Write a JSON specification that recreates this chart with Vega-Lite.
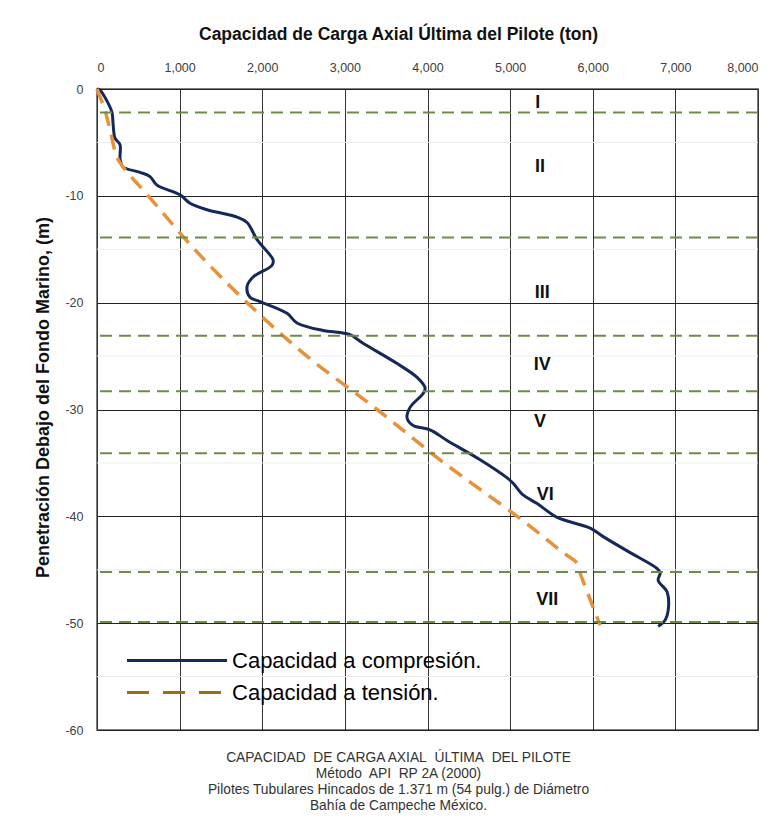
{
  "$schema": "https://vega.github.io/schema/vega-lite/v6.json",
  "width": 661,
  "height": 641,
  "autosize": "none",
  "padding": {"left": 97, "top": 89, "right": 23, "bottom": 103},
  "background": "white",
  "config": {
    "view": {"stroke": "#555", "strokeWidth": 1.5},
    "font": "Liberation Sans"
  },
  "title": {
    "text": [
      "CAPACIDAD\u00a0 DE CARGA AXIAL\u00a0 ÚLTIMA\u00a0 DEL PILOTE",
      "Método\u00a0 API\u00a0 RP 2A (2000)",
      "Pilotes Tubulares Hincados de 1.371 m (54 pulg.) de Diámetro",
      "Bahía de Campeche México."
    ],
    "orient": "bottom",
    "anchor": "middle",
    "fontSize": 13.8,
    "fontWeight": "normal",
    "font": "Liberation Sans",
    "color": "#333",
    "lineHeight": 16,
    "offset": 14,
    "dx": -29
  },
  "datasets": {
    "compresion": [
      {"ton": 0, "m": 0}, {"ton": 36, "m": -0.1}, {"ton": 133, "m": -1.3}, {"ton": 182, "m": -2.2},
      {"ton": 194, "m": -3.2}, {"ton": 218, "m": -4.6}, {"ton": 278, "m": -5.2}, {"ton": 280, "m": -6.6},
      {"ton": 315, "m": -7.3}, {"ton": 521, "m": -7.8}, {"ton": 642, "m": -8.2}, {"ton": 726, "m": -9.0},
      {"ton": 1005, "m": -9.9}, {"ton": 1126, "m": -10.7}, {"ton": 1332, "m": -11.3}, {"ton": 1695, "m": -12.0},
      {"ton": 1816, "m": -12.5}, {"ton": 1937, "m": -14.1}, {"ton": 2131, "m": -16.0}, {"ton": 2119, "m": -16.5},
      {"ton": 1889, "m": -17.6}, {"ton": 1816, "m": -18.5}, {"ton": 1852, "m": -19.5}, {"ton": 1973, "m": -19.9},
      {"ton": 2300, "m": -21.0}, {"ton": 2421, "m": -21.9}, {"ton": 2736, "m": -22.6}, {"ton": 2942, "m": -22.8},
      {"ton": 3063, "m": -23.0}, {"ton": 3220, "m": -23.8}, {"ton": 3632, "m": -25.7}, {"ton": 3874, "m": -27.0},
      {"ton": 3971, "m": -28.0}, {"ton": 3947, "m": -28.5}, {"ton": 3789, "m": -29.8}, {"ton": 3753, "m": -30.8},
      {"ton": 3826, "m": -31.5}, {"ton": 4031, "m": -31.9}, {"ton": 4237, "m": -32.9}, {"ton": 4637, "m": -34.7},
      {"ton": 4964, "m": -36.4}, {"ton": 5036, "m": -36.9}, {"ton": 5157, "m": -38.0}, {"ton": 5327, "m": -38.8},
      {"ton": 5569, "m": -40.1}, {"ton": 5969, "m": -41.1}, {"ton": 6126, "m": -41.9}, {"ton": 6453, "m": -43.4},
      {"ton": 6780, "m": -44.9}, {"ton": 6816, "m": -45.3}, {"ton": 6792, "m": -46.0}, {"ton": 6901, "m": -47.1},
      {"ton": 6913, "m": -48.8}, {"ton": 6877, "m": -49.7}, {"ton": 6792, "m": -50.3}
    ],
    "tension": [
      {"ton": 0, "m": 0}, {"ton": 50, "m": -1.0}, {"ton": 97, "m": -2.0}, {"ton": 157, "m": -3.8},
      {"ton": 242, "m": -6.4}, {"ton": 315, "m": -7.3}, {"ton": 620, "m": -10}, {"ton": 1180, "m": -15},
      {"ton": 1816, "m": -20}, {"ton": 2540, "m": -25}, {"ton": 3390, "m": -30}, {"ton": 4200, "m": -35},
      {"ton": 5085, "m": -40}, {"ton": 5642, "m": -43.4}, {"ton": 5811, "m": -44.4}, {"ton": 5847, "m": -45.3},
      {"ton": 5969, "m": -47.8}, {"ton": 6090, "m": -50.2}
    ],
    "menores": [
      {"m": -5}, {"m": -15}, {"m": -25}, {"m": -35}, {"m": -45}, {"m": -55}
    ],
    "estratos": [
      {"m": -2.2}, {"m": -13.9}, {"m": -23.1}, {"m": -28.3}, {"m": -34.1}, {"m": -45.2}, {"m": -49.9}
    ],
    "zonas": [
      {"zona": "I", "ton": 5333, "m": -1.3},
      {"zona": "II", "ton": 5363, "m": -7.3},
      {"zona": "III", "ton": 5390, "m": -19.1},
      {"zona": "IV", "ton": 5390, "m": -25.8},
      {"zona": "V", "ton": 5363, "m": -31.2},
      {"zona": "VI", "ton": 5424, "m": -38.0},
      {"zona": "VII", "ton": 5448, "m": -47.8}
    ],
    "leyenda": [
      {"serie": "Capacidad a compresión.", "ton": 363, "ton2": 1574, "lx": 1634, "m": -53.5},
      {"serie": "Capacidad a tensión.", "ton": 363, "ton2": 1574, "lx": 1634, "m": -56.5}
    ]
  },
  "layer": [
    {
      "data": {"name": "menores"},
      "mark": {"type": "rule", "color": "#ececec", "strokeWidth": 1},
      "encoding": {
        "y": {"field": "m", "type": "quantitative", "scale": {"domain": [-60, 0], "nice": false}}
      }
    },
    {
      "data": {"name": "compresion"},
      "mark": {"type": "line", "color": "#14285a", "strokeWidth": 3, "interpolate": "catmull-rom"},
      "encoding": {
        "x": {
          "field": "ton", "type": "quantitative",
          "scale": {"domain": [0, 8000], "nice": false},
          "axis": {
            "orient": "top",
            "values": [0, 1000, 2000, 3000, 4000, 5000, 6000, 7000, 8000],
            "format": ",.0f",
            "title": "Capacidad de Carga Axial Última del Pilote (ton)",
            "titleFontSize": 17.5,
            "titleFontWeight": "bold",
            "titleColor": "#111",
            "titlePadding": 18,
            "titleX": 301,
            "labelFontSize": 12.5,
            "labelColor": "#404040",
            "labelPadding": 15,
            "ticks": false,
            "tickSize": 0,
            "domain": false,
            "grid": true,
            "gridColor": "#333",
            "gridWidth": 1
          }
        },
        "y": {
          "field": "m", "type": "quantitative",
          "scale": {"domain": [-60, 0], "nice": false},
          "axis": {
            "values": [0, -10, -20, -30, -40, -50, -60],
            "labelExpr": "replace(datum.label, '\u2212', '-')",
            "title": "Penetración Debajo del Fondo Marino, (m)",
            "titleFontSize": 18,
            "titleFontWeight": "bold",
            "titleColor": "#111",
            "titlePadding": 12,
            "titleY": 308,
            "labelFontSize": 12.5,
            "labelColor": "#404040",
            "labelPadding": 14,
            "ticks": false,
            "tickSize": 0,
            "domain": false,
            "grid": true,
            "gridColor": "#222",
            "gridWidth": 1
          }
        },
        "order": {"field": "m", "sort": "descending"}
      }
    },
    {
      "data": {"name": "tension"},
      "mark": {"type": "line", "color": "#E8913D", "strokeWidth": 3.5, "strokeDash": [15, 9], "interpolate": "catmull-rom"},
      "encoding": {
        "x": {"field": "ton", "type": "quantitative"},
        "y": {"field": "m", "type": "quantitative"},
        "order": {"field": "m", "sort": "descending"}
      }
    },
    {
      "data": {"name": "estratos"},
      "mark": {"type": "rule", "color": "#6E8B4A", "strokeWidth": 2, "strokeDash": [12, 7]},
      "encoding": {
        "y": {"field": "m", "type": "quantitative"}
      }
    },
    {
      "data": {"name": "zonas"},
      "mark": {"type": "text", "fontSize": 18, "fontWeight": "bold", "color": "#111", "align": "center", "baseline": "middle"},
      "encoding": {
        "x": {"field": "ton", "type": "quantitative"},
        "y": {"field": "m", "type": "quantitative"},
        "text": {"field": "zona"}
      }
    },
    {
      "data": {"name": "leyenda"},
      "mark": {"type": "rule", "strokeWidth": 3},
      "encoding": {
        "x": {"field": "ton", "type": "quantitative"},
        "x2": {"field": "ton2"},
        "y": {"field": "m", "type": "quantitative"},
        "color": {
          "field": "serie", "type": "nominal",
          "scale": {"domain": ["Capacidad a compresión.", "Capacidad a tensión."], "range": ["#14285a", "#98700f"]},
          "legend": null
        },
        "strokeDash": {
          "field": "serie", "type": "nominal",
          "scale": {"domain": ["Capacidad a compresión.", "Capacidad a tensión."], "range": [[1, 0], [22, 14]]},
          "legend": null
        }
      }
    },
    {
      "data": {"name": "leyenda"},
      "mark": {"type": "text", "fontSize": 22, "color": "#000", "align": "left", "baseline": "middle"},
      "encoding": {
        "x": {"field": "lx", "type": "quantitative"},
        "y": {"field": "m", "type": "quantitative"},
        "text": {"field": "serie"}
      }
    }
  ]
}
